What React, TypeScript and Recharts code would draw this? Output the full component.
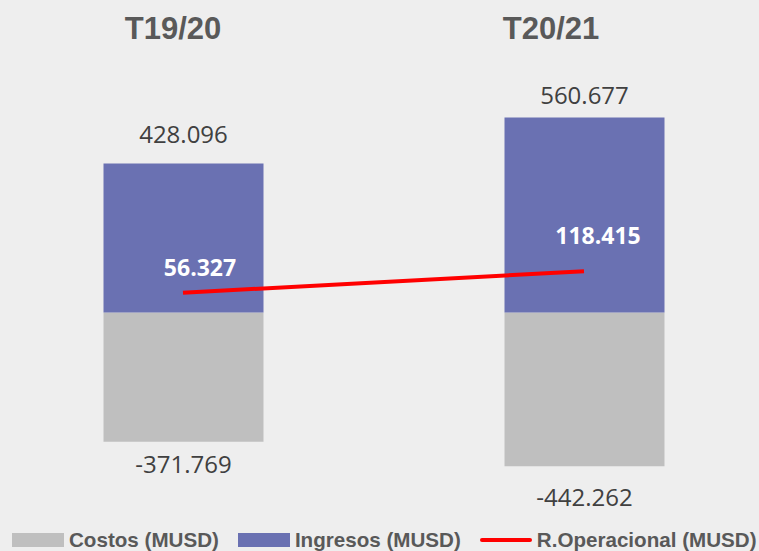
import React from 'react';
import { ComposedChart, Bar, Line, XAxis, YAxis, LabelList } from 'recharts';

const categories = ['T19/20', 'T20/21'];
const costos = [-371769, -442262];
const ingresos = [428096, 560677];
const resultado = [56327, 118415];

const data = categories.map((c, i) => ({
  idx: i,
  cat: c,
  costos: costos[i],
  ingresos: ingresos[i],
  resultado: resultado[i],
}));

const BG = '#eeeeee';
const PURPLE = '#6a71b2';
const GRAY = '#bfbfbf';
const RED = '#ff0000';
const TEXT = '#404040';
const TITLE = '#595959';

const titleOffsets = [-10, -33];
const topLabelGap = [30, 23];
const bottomLabelGap = [22, 30];
const lineLabelOffsets = [
  { dx: 17, dy: -26 },
  { dx: 14, dy: -36 },
];

const fmt = (v: number) => {
  const s = Math.abs(Math.round(v))
    .toString()
    .replace(/\B(?=(\d{3})+(?!\d))/g, '.');
  return (v < 0 ? '-' : '') + s;
};

const TitleTick = (p: any) => {
  const i = p.index ?? 0;
  return (
    <text
      x={p.x + (titleOffsets[i] || 0)}
      y={p.y - 22}
      textAnchor="middle"
      fontFamily="'Liberation Sans', Arial, sans-serif"
      fontWeight="bold"
      fontSize={31}
      fill={TITLE}
    >
      {categories[p.payload.value]}
    </text>
  );
};

const TopLabel = (p: any) => {
  const top = Math.min(p.y, p.y + p.height);
  return (
    <text
      x={p.x + p.width / 2}
      y={top - topLabelGap[p.index]}
      textAnchor="middle"
      dominantBaseline="central"
      fontFamily="'Open Sans', sans-serif"
      fontSize={24}
      fill={TEXT}
    >
      {fmt(p.value)}
    </text>
  );
};

const BottomLabel = (p: any) => {
  const bottom = Math.max(p.y, p.y + p.height);
  return (
    <text
      x={p.x + p.width / 2}
      y={bottom + bottomLabelGap[p.index]}
      textAnchor="middle"
      dominantBaseline="central"
      fontFamily="'Open Sans', sans-serif"
      fontSize={24}
      fill={TEXT}
    >
      {fmt(p.value)}
    </text>
  );
};

const LineLabel = (p: any) => {
  const o = lineLabelOffsets[p.index];
  return (
    <text
      x={p.x + o.dx}
      y={p.y + o.dy}
      textAnchor="middle"
      dominantBaseline="central"
      fontFamily="'Open Sans', sans-serif"
      fontWeight="bold"
      fontSize={23}
      fill="#ffffff"
    >
      {fmt(p.value)}
    </text>
  );
};

const legendItems = [
  { name: 'Costos (MUSD)', color: GRAY, type: 'rect' },
  { name: 'Ingresos (MUSD)', color: PURPLE, type: 'rect' },
  { name: 'R.Operacional (MUSD)', color: RED, type: 'line' },
];

export default function App() {
  return (
    <div
      style={{
        position: 'absolute',
        left: 0,
        top: 0,
        width: 759,
        height: 551,
        background: BG,
        overflow: 'hidden',
      }}
    >
      <ComposedChart
        width={759}
        height={551}
        data={data}
        stackOffset="sign"
        margin={{ top: 29, right: 175, bottom: 30, left: 183 }}
      >
        <XAxis
          dataKey="idx"
          type="number"
          domain={[0, 1]}
          ticks={[0, 1]}
          orientation="top"
          height={40}
          axisLine={false}
          tickLine={false}
          tick={<TitleTick />}
          interval={0}
        />
        <YAxis type="number" domain={[-600000, 700000]} hide allowDataOverflow />
        <Bar dataKey="costos" stackId="a" fill={GRAY} barSize={160} isAnimationActive={false}>
          <LabelList dataKey="costos" content={<BottomLabel />} />
        </Bar>
        <Bar dataKey="ingresos" stackId="a" fill={PURPLE} barSize={160} isAnimationActive={false}>
          <LabelList dataKey="ingresos" content={<TopLabel />} />
        </Bar>
        <Line
          dataKey="resultado"
          stroke={RED}
          strokeWidth={4}
          dot={false}
          activeDot={false}
          isAnimationActive={false}
        >
          <LabelList dataKey="resultado" content={<LineLabel />} />
        </Line>
      </ComposedChart>
      <div
        style={{
          position: 'absolute',
          left: 12,
          top: 530,
          height: 20,
          display: 'flex',
          alignItems: 'center',
          fontFamily: "'Liberation Sans', Arial, sans-serif",
          fontWeight: 'bold',
          fontSize: 20.6,
          color: TITLE,
          whiteSpace: 'nowrap',
        }}
      >
        {legendItems.map((it, i) => (
          <div
            key={it.name}
            style={{ display: 'flex', alignItems: 'center', marginRight: i < 2 ? 19 : 0 }}
          >
            {it.type === 'rect' ? (
              <div style={{ width: 52, height: 14, background: it.color, marginRight: 5 }} />
            ) : (
              <div style={{ width: 52, height: 4, background: it.color, borderRadius: 2, marginRight: 5 }} />
            )}
            <span>{it.name}</span>
          </div>
        ))}
      </div>
    </div>
  );
}
